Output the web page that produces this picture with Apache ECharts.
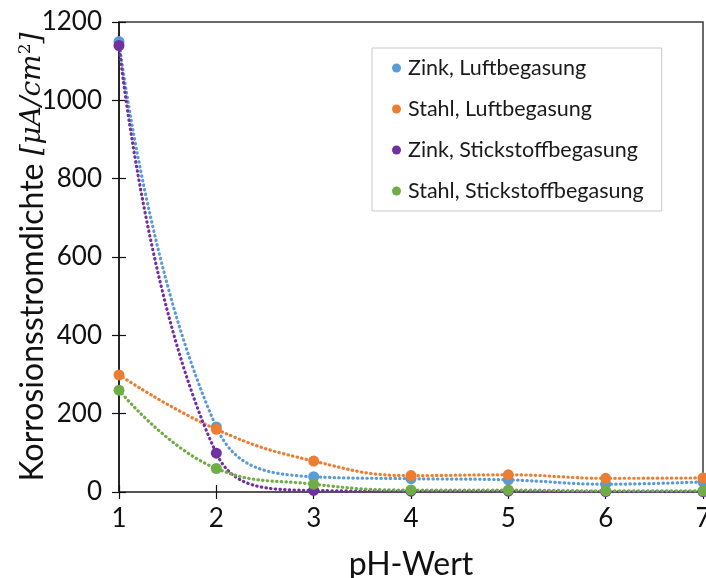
<!DOCTYPE html>
<html>
<head>
<meta charset="utf-8">
<script src="https://cdn.jsdelivr.net/npm/echarts@6/dist/echarts.min.js"></script>
<style>
  html, body { margin: 0; padding: 0; background: #fff; }
  #chart { width: 706px; height: 578px; }
</style>
</head>
<body>
<div id="chart"></div>
<script>
// pH values on the x axis
const phValues = [1, 2, 3, 4, 5, 6, 7];

// corrosion current density in µA/cm²
const zinkLuft = [1150, 166, 39, 34, 31, 20, 26];
const stahlLuft = [299, 160, 79, 42, 44, 35, 36];
const zinkStickstoff = [1140, 99, 4, 2, 2, 1, 1];
const stahlStickstoff = [260, 60, 20, 5, 5, 3, 3];

const seriesNames = [
  'Zink, Luftbegasung',
  'Stahl, Luftbegasung',
  'Zink, Stickstoffbegasung',
  'Stahl, Stickstoffbegasung'
];
const seriesColors = ['#5B9BD5', '#ED7D31', '#7030A0', '#70AD47'];
const seriesValues = [zinkLuft, stahlLuft, zinkStickstoff, stahlStickstoff];

const FONT = 'Lato, "Open Sans", sans-serif';

const chart = echarts.init(document.getElementById('chart'), null, { renderer: 'canvas' });

const series = seriesValues.map((vals, i) => ({
  name: seriesNames[i],
  type: 'line',
  data: phValues.map((x, j) => [x, vals[j]]),
  smooth: 0.45,
  symbol: 'circle',
  symbolSize: 11,
  showSymbol: true,
  color: seriesColors[i],
  itemStyle: { color: seriesColors[i] },
  lineStyle: {
    color: seriesColors[i],
    width: 3.2,
    type: [0.4, 4.3],
    cap: 'round'
  },
  emphasis: { disabled: true },
  animation: false
}));

const plainNumber = v => String(v);

const option = {
  animation: false,
  grid: {
    left: 119, right: 3, top: 22, bottom: 86,
    containLabel: false,
    outerBoundsMode: 'none',
    show: true,
    borderColor: '#3a3a3a',
    borderWidth: 1.5
  },
  legend: {
    orient: 'vertical',
    left: 372,
    top: 48,
    padding: [9, 18, 9, 20],
    itemGap: 19,
    itemWidth: 9,
    itemHeight: 9,
    icon: 'circle',
    borderColor: '#c8c8c8',
    borderWidth: 1,
    backgroundColor: '#fff',
    textStyle: { fontFamily: FONT, fontSize: 21.5, color: '#1a1a1a', padding: [0, 0, 0, 2] },
    data: seriesNames
  },
  xAxis: [{
    type: 'value',
    min: 1, max: 7, interval: 1,
    name: 'pH-Wert',
    nameLocation: 'middle',
    nameGap: 57,
    nameMoveOverlap: false,
    nameTextStyle: { fontFamily: FONT, fontSize: 32, color: '#111' },
    axisLine: { show: true, onZero: false, lineStyle: { color: '#555', width: 2 } },
    axisTick: { show: true, length: 7, lineStyle: { color: '#111', width: 1.2 } },
    axisLabel: { fontFamily: FONT, fontSize: 26, color: '#111', margin: 14, formatter: plainNumber },
    splitLine: { show: false }
  }, {
    type: 'value',
    position: 'bottom',
    min: 1, max: 7, interval: 1,
    axisLine: { show: false, onZero: false },
    axisTick: { show: true, inside: true, length: 7, lineStyle: { color: '#111', width: 1.2 } },
    axisLabel: { show: false },
    splitLine: { show: false }
  }],
  yAxis: [{
    type: 'value',
    min: 0, max: 1200, interval: 200,
    name: '{a|Korrosionsstromdichte }{b|[μA/cm}{s|2}{b|]}',
    nameLocation: 'middle',
    nameRotate: 90,
    nameGap: 70,
    nameMoveOverlap: false,
    nameTextStyle: {
      color: '#111',
      rich: {
        a: { fontFamily: FONT, fontSize: 32, color: '#111' },
        b: { fontFamily: '"DejaVu Serif", serif', fontStyle: 'italic', fontSize: 28, color: '#111' },
        s: { fontFamily: '"DejaVu Serif", serif', fontSize: 17, color: '#111', verticalAlign: 'top', padding: [0, 0, 12, 0] }
      }
    },
    axisLine: { show: true, onZero: false, lineStyle: { color: '#111', width: 1.5 } },
    axisTick: { show: true, length: 7, lineStyle: { color: '#111', width: 1.2 } },
    axisLabel: { fontFamily: FONT, fontSize: 26, color: '#111', margin: 17, formatter: plainNumber },
    splitLine: { show: false }
  }, {
    type: 'value',
    position: 'left',
    min: 0, max: 1200, interval: 200,
    axisLine: { show: false, onZero: false },
    axisTick: { show: true, inside: true, length: 7, lineStyle: { color: '#111', width: 1.2 } },
    axisLabel: { show: false },
    splitLine: { show: false }
  }],
  series: series
};

chart.setOption(option);
</script>
</body>
</html>
